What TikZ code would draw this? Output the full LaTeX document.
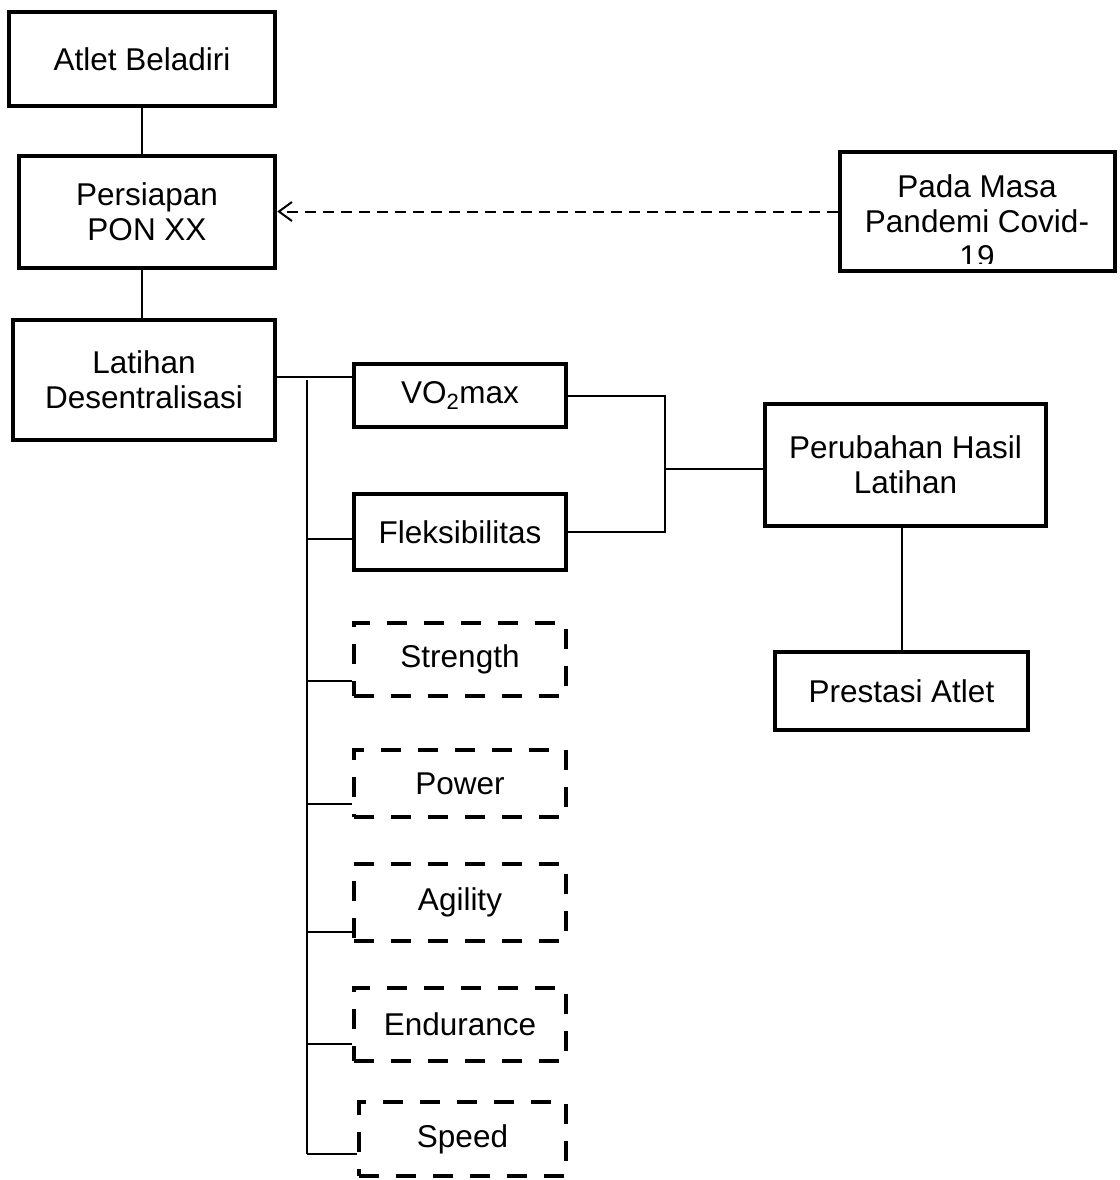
\documentclass[tikz,border=0pt]{standalone}
\usepackage{fontspec}
\setmainfont{Liberation Sans}
\usetikzlibrary{arrows.meta, positioning}

\begin{document}
\begin{tikzpicture}[x=1pt, y=-1pt,
    box/.style={draw, line width=4.5pt, align=center, inner sep=0pt,
        font=\fontsize{31.5}{35}\selectfont},
    dbox/.style={box, dash pattern=on 20pt off 17pt},
    link/.style={line width=2pt}]
    \useasboundingbox (0,0) rectangle (1119,1180);
    % left column
    \node[box, minimum width=266pt, minimum height=94pt] (atlet) at (142, 59) {Atlet Beladiri};
    \node[box, minimum width=256pt, minimum height=112pt] (pon) at (147, 212) {Persiapan\\PON XX};
    \node[box, minimum width=262pt, minimum height=120pt] (latihan) at (144, 380) {Latihan\\Desentralisasi};
    \node[box, minimum width=275pt, minimum height=119pt] (covid) at (977.5, 211.5) {};
    \begin{scope}
        \clip (840, 152) rectangle (1115, 263);
        \node[align=center, inner sep=0pt, font=\fontsize{31.5}{35}\selectfont] (covidtext) at (977, 221) {Pada Masa\\Pandemi Covid-\\19};
    \end{scope}
    % components
    \node[box, minimum width=212pt, minimum height=63pt] (vo2) at (460, 395.5) {VO\textsubscript{2}max};
    \node[box, minimum width=212pt, minimum height=76pt] (fleks) at (460, 532) {Fleksibilitas};
    \node[dbox, minimum width=212pt, minimum height=73pt] (strength) at (460, 659.5) {Strength};
    \node[dbox, minimum width=212pt, minimum height=67pt] (power) at (460, 783.5) {Power};
    \node[dbox, minimum width=212pt, minimum height=77pt] (agility) at (460, 902.5) {Agility};
    \node[dbox, minimum width=212pt, minimum height=73pt] (endurance) at (460, 1024.5) {Endurance};
    \node[dbox, minimum width=207pt, minimum height=74pt] (speed) at (462.5, 1139) {Speed};
    % results
    \node[box, minimum width=281pt, minimum height=122pt] (hasil) at (905.5, 465) {Perubahan Hasil\\Latihan};
    \node[box, minimum width=253pt, minimum height=78pt] (prestasi) at (901.5, 691) {Prestasi Atlet};

    \coordinate (bustop) at (307, 380);
    \coordinate (busend) at (307, 1154);
    \coordinate (join) at (665, 469);

    \draw[link] (atlet.south) -- (atlet.south |- pon.north);
    \draw[link] (atlet.south |- pon.south) -- (atlet.south |- latihan.north);
    \draw[link, dash pattern=on 11pt off 7pt, -{Straight Barb[length=13pt, width=19pt]}]
        (covid.west) -- (pon.east |- covid.west);
    \draw[link] (latihan.east |- 0,377) -- (vo2.west |- 0,377);
    \draw[link] (bustop) -- (busend);
    \foreach \b/\y in {fleks/539, strength/681, power/804, agility/932, endurance/1044, speed/1154}
        \draw[link] (bustop |- 0,\y) -- (\b.west |- 0,\y);
    \draw[link] (vo2.east) -| (join) |- (fleks.east);
    \draw[link] (join) -- (join -| hasil.west);
    \draw[link] (prestasi.north |- hasil.south) -- (prestasi.north);
\end{tikzpicture}
\end{document}
